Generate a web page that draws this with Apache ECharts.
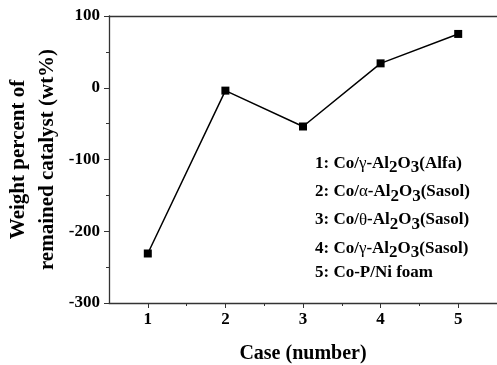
<!DOCTYPE html>
<html lang="en">
<head>
  <meta charset="UTF-8">
  <title>Weight percent of remained catalyst</title>
  <script src="https://cdn.jsdelivr.net/npm/echarts@6/dist/echarts.min.js"></script>
  <style>
    body { margin: 0; background: #fff; }
    #main { width: 497px; height: 365px; }
  </style>
</head>
<body>
  <div id="main"></div>
  <script>
    var cases = [1, 2, 3, 4, 5]
    var halfTicks = [1.5, 2.5, 3.5, 4.5]
    var weightPercent = [-231, -4, -54, 34, 75]
    var yTicks = [-300, -200, -100, 0, 100]
    // text of the case list, rich text for the subscripts
    var caseLabels = [
      '{t|1: Co/}{g|γ}{t|-Al}{s|2}{t|O}{s|3}{t|(Alfa)}',
      '{t|2: Co/}{g|α}{t|-Al}{s|2}{t|O}{s|3}{t|(Sasol)}',
      '{t|3: Co/}{g|θ}{t|-Al}{s|2}{t|O}{s|3}{t|(Sasol)}',
      '{t|4: Co/}{g|γ}{t|-Al}{s|2}{t|O}{s|3}{t|(Sasol)}',
      '{t|5: Co-P/Ni foam}'
    ]

    var font = '"Liberation Serif", "Times New Roman", serif'
    var axisColor = '#333'
    var mCharts = echarts.init(document.getElementById('main'))

    var pts = cases.map(function (c, i) { return [c, weightPercent[i]] })

    var option = {
      animation: false,
      grid: { left: 109, right: 0, top: 16, bottom: 62, outerBoundsMode: 'none', containLabel: false },
      xAxis: [
        {
          type: 'value', min: 0.5, max: 5.5,
          position: 'bottom',
          name: 'Case (number)', nameLocation: 'middle', nameGap: 41, nameMoveOverlap: false,
          nameTextStyle: { fontFamily: font, fontWeight: 'bold', fontSize: 20, color: '#000' },
          axisLine: { onZero: false, lineStyle: { color: axisColor, width: 1.3 } },
          axisTick: { inside: false, length: 5, customValues: cases, lineStyle: { color: axisColor } },
          splitLine: { show: false },
          axisLabel: {
            fontFamily: font, fontWeight: 'bold', fontSize: 17, color: '#000', margin: 8,
            customValues: cases
          }
        },
        {
          // minor ticks between the cases
          type: 'value', min: 0.5, max: 5.5,
          position: 'bottom',
          axisLine: { show: false, onZero: false },
          axisTick: { show: true, length: 3, customValues: halfTicks, lineStyle: { color: axisColor } },
          axisLabel: { show: false },
          splitLine: { show: false }
        },
        {
          type: 'value', min: 0.5, max: 5.5,
          position: 'top',
          axisLine: { show: true, onZero: false, lineStyle: { color: axisColor, width: 1.3 } },
          axisTick: { show: false },
          axisLabel: { show: false },
          splitLine: { show: false }
        }
      ],
      yAxis: {
        type: 'value', min: yTicks[0], max: yTicks[yTicks.length - 1], interval: 100,
        name: 'Weight percent of\nremained catalyst (wt%)', nameLocation: 'middle', nameGap: 47,
        nameMoveOverlap: false,
        nameRotate: 90,
        nameTextStyle: { fontFamily: font, fontWeight: 'bold', fontSize: 21, color: '#000', lineHeight: 29 },
        axisLine: { show: true, onZero: false, lineStyle: { color: axisColor, width: 1.3 } },
        axisTick: { show: true, inside: false, length: 5, lineStyle: { color: axisColor } },
        minorTick: { show: true, splitNumber: 2, length: 3, lineStyle: { color: axisColor } },
        splitLine: { show: false },
        axisLabel: { fontFamily: font, fontWeight: 'bold', fontSize: 17, color: '#000', margin: 9 }
      },
      graphic: [
        {
          type: 'group', left: 315, top: 155,
          children: caseLabels.map(function (txt, i) {
            return {
              type: 'text', x: 0, y: i * 28.3,
              style: {
                text: txt,
                rich: {
                  t: { fontFamily: font, fontWeight: 'bold', fontSize: 17, fill: '#000' },
                  g: { fontFamily: font, fontWeight: 'normal', fontSize: 17, fill: '#000' },
                  s: { fontFamily: font, fontWeight: 'bold', fontSize: 17, fill: '#000', padding: [9, 0, 0, 0] }
                }
              }
            }
          })
        }
      ],
      series: [
        {
          type: 'line',
          data: pts,
          symbol: 'rect', symbolSize: 8,
          itemStyle: { color: '#000' },
          lineStyle: { color: '#000', width: 1.5 }
        }
      ]
    }
    mCharts.setOption(option)
  </script>
</body>
</html>
